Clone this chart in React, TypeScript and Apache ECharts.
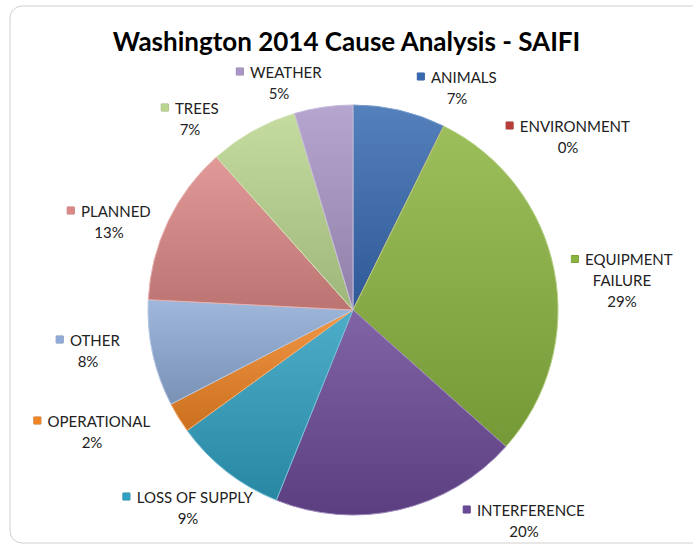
import React, { useEffect, useRef } from "react";
import * as echarts from "echarts";

const TITLE = "Washington 2014 Cause Analysis - SAIFI";
const categories = [
  "ANIMALS",
  "ENVIRONMENT",
  "EQUIPMENT\nFAILURE",
  "INTERFERENCE",
  "LOSS OF SUPPLY",
  "OPERATIONAL",
  "OTHER",
  "PLANNED",
  "TREES",
  "WEATHER",
];
const values = [7.3, 0, 29.3, 19.5, 8.9, 2.4, 8.4, 12.6, 7.0, 4.6];
const colors = [
  "#3669b0",
  "#b83c3a",
  "#8ab43f",
  "#6a4996",
  "#2fa0c0",
  "#ee8424",
  "#8faad6",
  "#dc8886",
  "#bad68e",
  "#a996c6",
];
const labelPos: [number, number][] = [
  [457, 87],
  [568, 136],
  [622, 280],
  [524, 520],
  [188, 507],
  [92, 431],
  [88, 350],
  [109, 221],
  [190, 118],
  [279, 82],
];

function mix(hex: string, target: number, t: number) {
  const n = parseInt(hex.slice(1), 16);
  const r = (n >> 16) & 255,
    g = (n >> 8) & 255,
    b = n & 255;
  const f = (c: number) => Math.round(c + (target - c) * t);
  return `rgb(${f(r)},${f(g)},${f(b)})`;
}

export default function App() {
  const ref = useRef<HTMLDivElement>(null);
  useEffect(() => {
    document.body.style.margin = "0";
    if (!ref.current) return;
    const chart = echarts.init(ref.current, undefined, { renderer: "svg" });
    const data = categories.map((name, i) => ({
      name,
      value: values[i],
      itemStyle: {
        color: {
          type: "linear",
          x: 0,
          y: 0,
          x2: 0,
          y2: 1,
          colorStops: [
            { offset: 0, color: mix(colors[i], 255, 0.15) },
            { offset: 1, color: mix(colors[i], 0, 0.15) },
          ],
        },
        borderColor: mix(colors[i], 255, 0.35),
        borderWidth: 1,
      },
      label: {
        rich: {
          m: {
            width: 7,
            height: 7,
            backgroundColor: colors[i],
            borderColor: mix(colors[i], 0, 0.2),
            borderWidth: 0.5,
          },
          n: { fontSize: 15, fontFamily: "Lato", color: "#222222", lineHeight: 21 },
          p: { fontSize: 15, fontFamily: "Lato", color: "#222222", lineHeight: 21 },
        },
      },
    }));
    chart.setOption({
      animation: false,
      backgroundColor: "#ffffff",
      title: {
        text: TITLE,
        left: "center",
        top: 23,
        textStyle: {
          fontFamily: "Lato",
          fontWeight: "bold",
          fontSize: 26,
          color: "#000000",
        },
      },
      graphic: [
        {
          type: "rect",
          shape: { x: 10, y: 6, width: 700, height: 537, r: 12 },
          style: { fill: "none", stroke: "#d0d0d0", lineWidth: 1 },
          z: -1,
        },
      ],
      series: [
        {
          type: "pie",
          center: [353, 310],
          radius: 205,
          startAngle: 90,
          clockwise: true,
          avoidLabelOverlap: false,
          data,
          label: {
            show: true,
            position: "outside",
            align: "center",
            formatter: (p: any) => {
              const lines = String(p.name).split("\n");
              const first = `{m|}  {n|${lines[0]}}`;
              const rest = lines.slice(1).map((l) => `{n|${l}}`);
              return [first, ...rest, `{p|${Math.round(p.value)}%}`].join("\n");
            },
          },
          labelLine: { show: false },
          labelLayout: (params: any) => ({
            x: labelPos[params.dataIndex][0],
            y: labelPos[params.dataIndex][1],
            align: "center",
            verticalAlign: "middle",
          }),
          emphasis: { disabled: true },
        },
      ],
    });
    return () => chart.dispose();
  }, []);
  return <div ref={ref} style={{ width: 693, height: 550 }} />;
}
